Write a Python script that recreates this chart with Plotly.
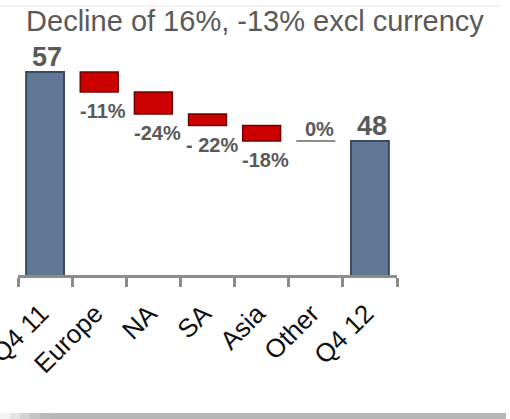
import plotly.graph_objects as go

# Quarterly totals and the regional bridge between them
categories = ["Q4 11", "Europe", "NA", "SA", "Asia", "Other", "Q4 12"]
start_total = 57
end_total = 48
regions = ["Europe", "NA", "SA", "Asia", "Other"]
region_changes = [-2.6, -2.9, -1.5, -2.0, 0.0]
region_labels = ["-11%", "-24%", "- 22%", "-18%", "0%"]
title_text = "Decline of 16%, -13% excl currency"

FONT = "Liberation Sans, Arial, sans-serif"
LABEL_GREY = "#595959"

# floating segments of the bridge
tops, bottoms = [], []
level = start_total
for ch in region_changes:
    tops.append(level)
    level = level + ch
    bottoms.append(level)

fig = go.Figure()

# start / end totals
fig.add_trace(go.Bar(
    x=[categories[0], categories[-1]],
    y=[start_total, end_total],
    marker=dict(color="#607896", line=dict(color="#3a4a60", width=2)),
    width=0.7,
    hoverinfo="skip",
))

# regional declines (non-zero ones are drawn as red blocks)
red_x = [r for r, c in zip(regions, region_changes) if c != 0]
red_base = [b for b, c in zip(bottoms, region_changes) if c != 0]
red_h = [t - b for t, b, c in zip(tops, bottoms, region_changes) if c != 0]
fig.add_trace(go.Bar(
    x=red_x,
    y=red_h,
    base=red_base,
    marker=dict(color="#cc0000", line=dict(color="#6e0000", width=1.5)),
    width=0.7,
    hoverinfo="skip",
))

# flat regions are drawn as a short level line
for r, c, b in zip(regions, region_changes, bottoms):
    if c == 0:
        i = categories.index(r)
        fig.add_trace(go.Scatter(
            x=[i - 0.36, i + 0.36], y=[b, b],
            xaxis="x2", mode="lines",
            line=dict(color="#8c8c8c", width=2),
            hoverinfo="skip",
        ))

annotations = []
# total labels
for cat, val in [(categories[0], start_total), (categories[-1], end_total)]:
    annotations.append(dict(
        x=cat, y=val, text=f"<b>{val}</b>", showarrow=False,
        yanchor="bottom", yshift=-2, xshift=2,
        font=dict(family=FONT, size=27, color=LABEL_GREY),
    ))
# percentage labels
for r, c, t, b, lab in zip(regions, region_changes, tops, bottoms, region_labels):
    if c == 0:
        annotations.append(dict(
            x=r, y=b, text=f"<b>{lab}</b>", showarrow=False,
            yanchor="bottom", yshift=-1, xshift=4,
            font=dict(family=FONT, size=20, color=LABEL_GREY),
        ))
    else:
        annotations.append(dict(
            x=r, y=b, text=f"<b>{lab}</b>", showarrow=False,
            yanchor="top", yshift=-6, xshift=4,
            font=dict(family=FONT, size=20, color=LABEL_GREY),
        ))

# card frame: faint top rule and shaded bottom edge
L, R, T, B = 18, 397, 49, 275
def px(xp):
    return (xp - L) / (R - L)
def py(yp):
    return (B - yp) / (B - T)

shapes = [
    dict(type="line", xref="paper", yref="paper",
         x0=px(0), x1=px(500), y0=py(6), y1=py(6),
         line=dict(color="#e6e6e6", width=1)),
]
band = ["#f4f4f4", "#e4e4e4", "#d2d2d2", "#c4c4c4", "#bababa"]
for k, col in enumerate(band):
    shapes.append(dict(type="rect", xref="paper", yref="paper",
                       x0=px(k * 10), x1=px(k * 10 + 10),
                       y0=py(419), y1=py(413),
                       fillcolor=col, line=dict(width=0)))
shapes.append(dict(type="rect", xref="paper", yref="paper",
                   x0=px(50), x1=px(506), y0=py(419), y1=py(413),
                   fillcolor="#b7b7b7", line=dict(width=0)))

fig.update_layout(
    width=510, height=419,
    margin=dict(l=L, r=510 - R, t=T, b=419 - B, autoexpand=False),
    paper_bgcolor="white", plot_bgcolor="white",
    showlegend=False,
    barmode="overlay",
    title=dict(text=title_text, x=0.5, xref="container", xanchor="center",
               y=1 - 21 / 419, yref="container", yanchor="middle",
               font=dict(family=FONT, size=29, color="#595959")),
    xaxis=dict(
        type="category", categoryorder="array", categoryarray=categories,
        range=[-0.5, 6.5], automargin=False,
        tickson="boundaries", ticks="outside", ticklen=9, tickwidth=3,
        tickcolor="#8c8c8c", showline=True, linecolor="#8c8c8c", linewidth=3,
        tickangle=-45, showgrid=False, ticklabelstandoff=10, ticklabelshift=-4,
        tickfont=dict(family=FONT, size=26, color="#111111"),
    ),
    xaxis2=dict(overlaying="x", range=[-0.5, 6.5], visible=False),
    yaxis=dict(range=[30.5, 60], visible=False, showgrid=False, zeroline=False,
               automargin=False),
    annotations=annotations,
    shapes=shapes,
)

fig.write_html("out.html")
